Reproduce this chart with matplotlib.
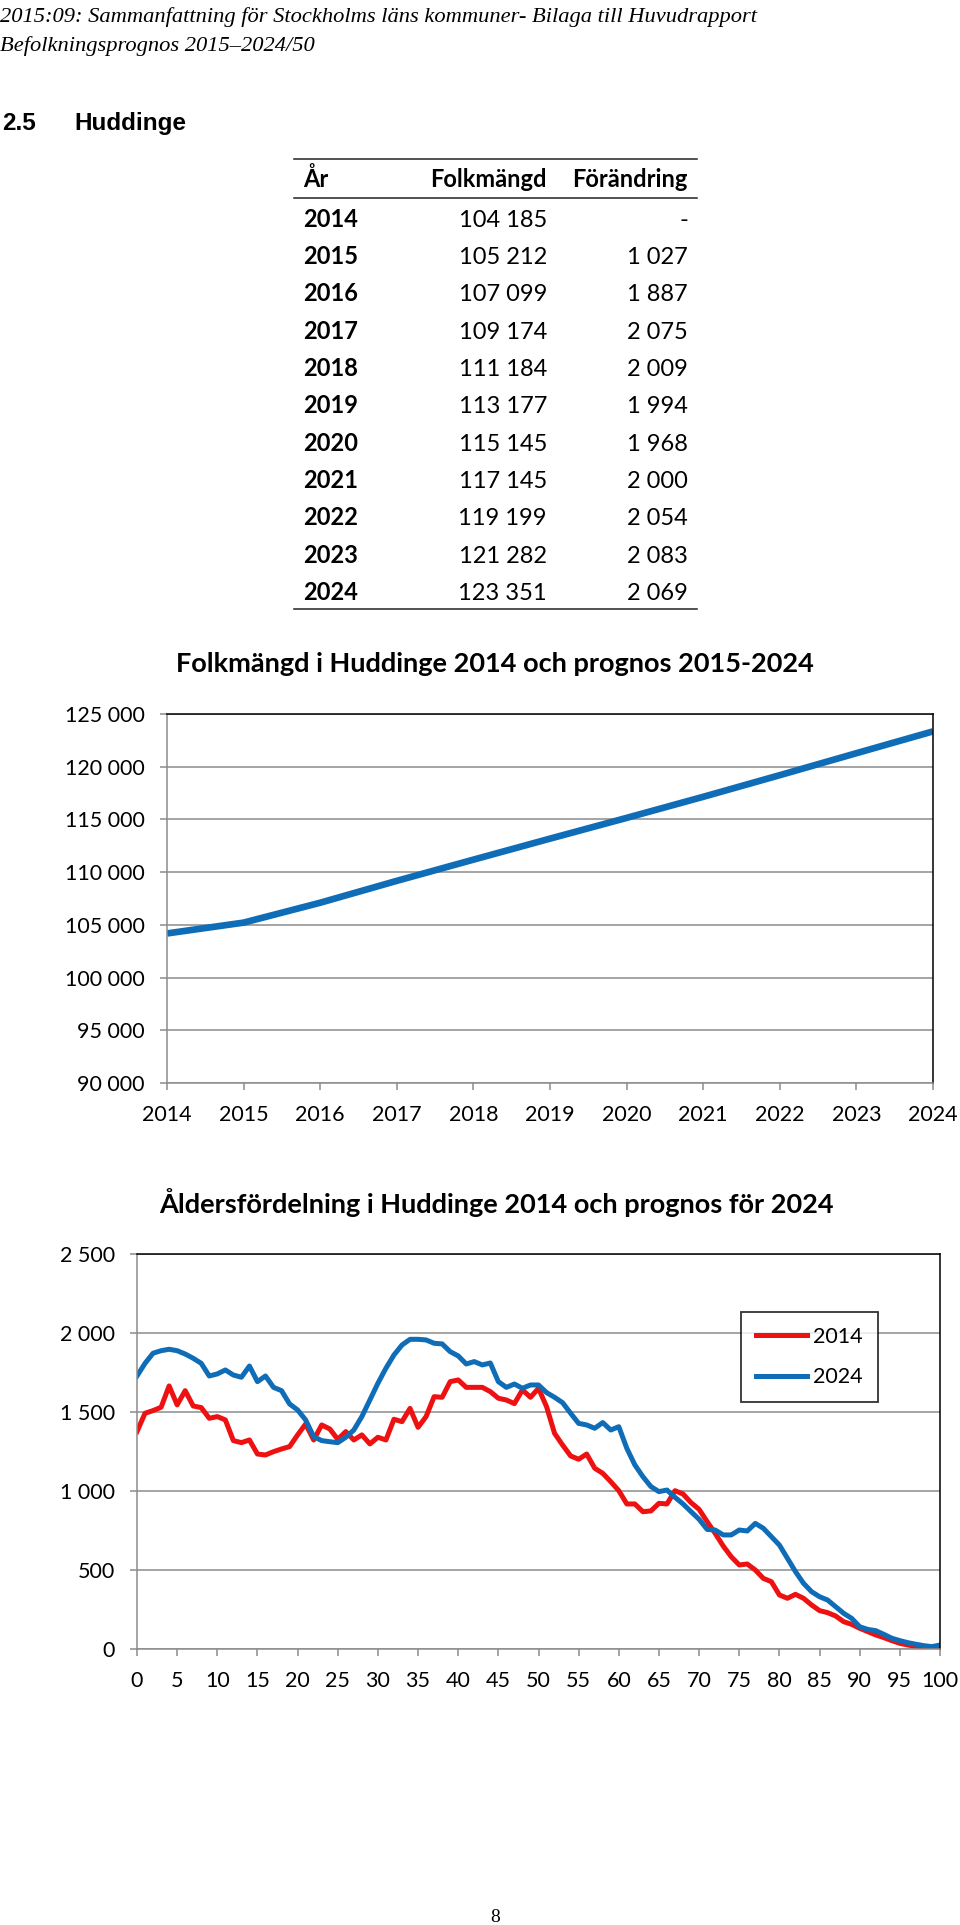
import matplotlib
matplotlib.use('Agg')
import matplotlib.pyplot as plt
from matplotlib.lines import Line2D
from matplotlib.ticker import FuncFormatter, MultipleLocator

# tabell / folkmängd
years = [2014, 2015, 2016, 2017, 2018, 2019, 2020, 2021, 2022, 2023, 2024]
folkmangd = [104185, 105212, 107099, 109174, 111184, 113177, 115145, 117145, 119199, 121282, 123351]
forandring = [None, 1027, 1887, 2075, 2009, 1994, 1968, 2000, 2054, 2083, 2069]

# åldersfördelning, ålder 0-100
ages = list(range(101))
alder_2014 = [1376, 1492, 1509, 1530, 1665, 1545, 1635, 1538, 1528, 1460,
              1471, 1450, 1319, 1306, 1323, 1234, 1228, 1249, 1266, 1281,
              1355, 1424, 1323, 1418, 1393, 1327, 1376, 1323, 1355, 1298,
              1340, 1323, 1454, 1439, 1523, 1403, 1471, 1597, 1593, 1692,
              1703, 1656, 1656, 1656, 1629, 1587, 1576, 1553, 1640, 1593,
              1650, 1534, 1365, 1291, 1222, 1201, 1234, 1144, 1112, 1059,
              1002, 918, 918, 869, 874, 922, 918, 1002, 981, 926,
              884, 806, 732, 652, 584, 532, 538, 500, 447, 426,
              342, 321, 346, 321, 279, 243, 230, 209, 173, 156,
              131, 110, 89, 72, 53, 36, 25, 17, 11, 8, 8]
alder_2024 = [1728, 1808, 1872, 1888, 1897, 1888, 1867, 1840, 1808, 1728,
              1741, 1766, 1734, 1720, 1791, 1692, 1728, 1656, 1635, 1551,
              1513, 1450, 1344, 1319, 1312, 1306, 1340, 1386, 1471, 1576,
              1682, 1777, 1861, 1924, 1960, 1960, 1956, 1935, 1931, 1882,
              1855, 1804, 1819, 1798, 1810, 1692, 1656, 1677, 1650, 1671,
              1671, 1623, 1593, 1559, 1492, 1428, 1418, 1397, 1433, 1386,
              1407, 1270, 1165, 1091, 1028, 996, 1006, 960, 918, 869,
              821, 757, 753, 722, 722, 753, 747, 795, 764, 711,
              658, 574, 490, 416, 363, 331, 310, 268, 226, 194,
              141, 124, 116, 93, 68, 53, 40, 30, 21, 15, 25]

W, H = 960, 1925
BLUE = '#0f6cb6'
RED = '#ee1111'
GRID = '#8c8c8c'
SANS = ['Lato', 'DejaVu Sans']


def fx(x):
    return x / W


def fy(y):
    return 1 - y / H


def tusental(v, pos=None):
    return format(int(v), ',').replace(',', ' ')


def style_axes(ax):
    ax.grid(axis='y', color=GRID, lw=1.1)
    ax.set_axisbelow(True)
    for s in ['left', 'bottom']:
        ax.spines[s].set_color(GRID)
        ax.spines[s].set_linewidth(1.1)
    for s in ['top', 'right']:
        ax.spines[s].set_color('black')
        ax.spines[s].set_linewidth(1.1)
    ax.tick_params(axis='both', direction='out', length=5, width=1.1, color=GRID,
                   labelsize=15.5, pad=11)
    for lab in ax.get_xticklabels() + ax.get_yticklabels():
        lab.set_family(SANS)


fig = plt.figure(figsize=(W / 100, H / 100), dpi=100)

# sidhuvud
serif = ['Liberation Serif', 'DejaVu Serif']
arial = ['Liberation Sans', 'DejaVu Sans']
fig.text(fx(0), fy(22), '2015:09: Sammanfattning för Stockholms läns kommuner- Bilaga till Huvudrapport',
         family=serif, style='italic', fontsize=16.2, va='baseline', ha='left')
fig.text(fx(0), fy(51.5), 'Befolkningsprognos 2015\u20132024/50',
         family=serif, style='italic', fontsize=16.2, va='baseline', ha='left')
fig.text(fx(2.5), fy(130), '2.5', family=arial, weight='bold',
         fontsize=17.5, va='baseline', ha='left')
fig.text(fx(74), fy(130), 'Huddinge', family=arial, weight='bold',
         fontsize=17.5, va='baseline', ha='left')

# tabell
x_ar, x_folk, x_for = 303, 547, 688
for yl in [159.3, 197.7, 609.3]:
    fig.add_artist(Line2D([fx(294), fx(697)], [fy(yl), fy(yl)], color='#222222', lw=1.1))
hy = fy(187)
fs_tab = 17
fig.text(fx(x_ar), hy, 'År', family=SANS, weight='bold', fontsize=fs_tab, va='baseline', ha='left')
fig.text(fx(x_folk), hy, 'Folkmängd', family=SANS, weight='bold', fontsize=fs_tab, va='baseline', ha='right')
fig.text(fx(x_for), hy, 'Förändring', family=SANS, weight='bold', fontsize=fs_tab, va='baseline', ha='right')
for i, yr in enumerate(years):
    yb = fy(218.3 + 37.33 * i + 8.5)
    fig.text(fx(x_ar), yb, str(yr), family=SANS, weight='bold', fontsize=fs_tab, va='baseline', ha='left')
    fig.text(fx(x_folk), yb, tusental(folkmangd[i]), family=SANS, fontsize=fs_tab, va='baseline', ha='right')
    ch = '-' if forandring[i] is None else tusental(forandring[i])
    fig.text(fx(x_for), yb, ch, family=SANS, fontsize=fs_tab, va='baseline', ha='right')

# diagram 1: folkmängd
ax1 = fig.add_axes([fx(167), fy(1083), fx(933) - fx(167), fy(714) - fy(1083)])
ax1.plot(years, folkmangd, color=BLUE, lw=4.8, solid_capstyle='butt')
ax1.set_xlim(2014, 2024)
ax1.set_ylim(90000, 125000)
ax1.set_xticks(years)
ax1.yaxis.set_major_locator(MultipleLocator(5000))
ax1.yaxis.set_major_formatter(FuncFormatter(tusental))
style_axes(ax1)
fig.text(fx(495), fy(672), 'Folkmängd i Huddinge 2014 och prognos 2015-2024', family=SANS,
         weight='bold', fontsize=19.5, ha='center', va='baseline')

# diagram 2: åldersfördelning
ax2 = fig.add_axes([fx(137), fy(1649), fx(940) - fx(137), fy(1254) - fy(1649)])
ax2.plot(ages, alder_2014, color=RED, lw=3.6, label='2014')
ax2.plot(ages, alder_2024, color=BLUE, lw=3.6, label='2024')
ax2.set_xlim(0, 100)
ax2.set_ylim(0, 2500)
ax2.xaxis.set_major_locator(MultipleLocator(5))
ax2.yaxis.set_major_locator(MultipleLocator(500))
ax2.yaxis.set_major_formatter(FuncFormatter(tusental))
style_axes(ax2)
leg = ax2.legend(loc='upper left', bbox_to_anchor=((740.7 - 137) / 803, (1649 - 1311.7) / 395),
                 borderaxespad=0, frameon=True, fancybox=False, handlelength=2.4,
                 handletextpad=0.25, labelspacing=0.95, borderpad=0.7, prop={'family': SANS, 'size': 15.5})
leg.get_frame().set_edgecolor('black')
leg.get_frame().set_linewidth(1.3)
fig.text(fx(496), fy(1213), 'Åldersfördelning i Huddinge 2014 och prognos för 2024', family=SANS,
         weight='bold', fontsize=19.5, ha='center', va='baseline')

# sidnummer
fig.text(fx(495), fy(1922), '8', family=serif, fontsize=14, ha='center', va='baseline')

fig.savefig('out.png', dpi=100)
